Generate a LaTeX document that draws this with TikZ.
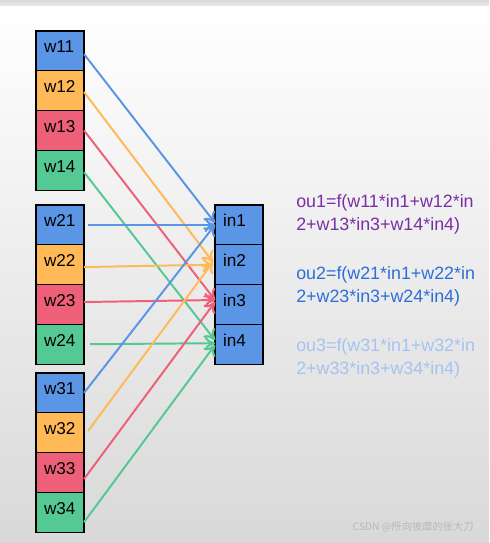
\documentclass[tikz,border=0pt]{standalone}
\usepackage{fontspec}
\setmainfont{Liberation Sans}
\newfontfamily\cjkfont{Noto Sans CJK SC}
\usetikzlibrary{arrows.meta,positioning}
\definecolor{wblue}{HTML}{5B95E6}
\definecolor{worange}{HTML}{FFB957}
\definecolor{wred}{HTML}{EE6077}
\definecolor{wgreen}{HTML}{55C993}
\definecolor{oupurple}{HTML}{7A2FA6}
\definecolor{oublue}{HTML}{2D6ED7}
\definecolor{oulight}{HTML}{A5C3F0}
\tikzset{%
	wbox/.style    = {draw, rectangle, line width=0.75pt, minimum width=12mm, minimum height=9.94mm, inner xsep=2mm, inner ysep=0pt, outer sep=0pt, text width=8mm, align=left, text height=8.5pt, text depth=5.5pt, font=\fontsize{12.2}{14}\selectfont}, % weight cell
	inbox/.style   = {wbox, fill=wblue}, % input cell
	wire/.style    = {-{To[length=2.6mm,width=3.6mm,line width=1.5pt]}, line width=1.4pt}, % connector
	formula/.style = {anchor=north west, inner sep=0pt, align=left, font=\fontsize{12.7}{16.3}\selectfont}, % output
}
\begin{document}
\begin{tikzpicture}[x=0.025cm, y=-0.025cm]
		\useasboundingbox (0,0) rectangle (489,543);
		\shade[top color=black!14, bottom color=black!8] (0,0) rectangle (489,7);
		\shade[top color=white, bottom color=black!15] (0,7) rectangle (489,543);
		% first group
		\node[wbox, fill=wblue, anchor=north west] (w11) at (36,31) {w11};
		\node[wbox, fill=worange, below=0pt of w11] (w12) {w12};
		\node[wbox, fill=wred, below=0pt of w12] (w13) {w13};
		\node[wbox, fill=wgreen, below=0pt of w13] (w14) {w14};
		% second group
		\node[wbox, fill=wblue, anchor=north west] (w21) at (36,205) {w21};
		\node[wbox, fill=worange, below=0pt of w21] (w22) {w22};
		\node[wbox, fill=wred, below=0pt of w22] (w23) {w23};
		\node[wbox, fill=wgreen, below=0pt of w23] (w24) {w24};
		% third group
		\node[wbox, fill=wblue, anchor=north west] (w31) at (36,373) {w31};
		\node[wbox, fill=worange, below=0pt of w31] (w32) {w32};
		\node[wbox, fill=wred, below=0pt of w32] (w33) {w33};
		\node[wbox, fill=wgreen, below=0pt of w33] (w34) {w34};
		% inputs
		\node[inbox, anchor=north west] (in1) at (215,205) {in1};
		\node[inbox, below=0pt of in1] (in2) {in2};
		\node[inbox, below=0pt of in2] (in3) {in3};
		\node[inbox, below=0pt of in3] (in4) {in4};
		% connectors
		\draw[wire, wblue] ([yshift=-0.8mm]w11.east) -- ([yshift=0.5mm]in1.west);
		\draw[wire, worange] ([yshift=-0.35mm]w12.east) -- ([xshift=-0.5mm,yshift=0.65mm]in2.west);
		\draw[wire, wred] (w13.east) -- ([yshift=1.1mm]in3.west);
		\draw[wire, wgreen] ([yshift=-0.5mm]w14.east) -- ([yshift=1mm]in4.west);
		\draw[wire, wblue] ([xshift=1mm]w21.east) -- (in1.west);
		\draw[wire, worange] ([yshift=-0.6mm]w22.east) -- ([xshift=-0.5mm]in2.west);
		\draw[wire, wred] ([yshift=0.6mm]w23.east) -- ([yshift=1.1mm]in3.west);
		\draw[wire, wgreen] ([xshift=1.5mm]w24.east) -- ([yshift=0.25mm]in4.west);
		\draw[wire, wblue] (w31.east) -- (in1.west);
		\draw[wire, worange] ([xshift=1mm,yshift=0.4mm]w32.east) -- ([xshift=-0.5mm,yshift=0.65mm]in2.west);
		\draw[wire, wred] ([yshift=-1.65mm]w33.east) -- ([yshift=0.6mm]in3.west);
		\draw[wire, wgreen] ([yshift=-2.5mm]w34.east) -- ([yshift=-0.2mm]in4.west);
		% outputs
		\node[formula, text=oupurple] (ou1) at (296,194) {ou1=f(w11*in1+w12*in\\2+w13*in3+w14*in4)};
		\node[formula, text=oublue] (ou2) at (296,266) {ou2=f(w21*in1+w22*in\\2+w23*in3+w24*in4)};
		\node[formula, text=oulight] (ou3) at (296,338) {ou3=f(w31*in1+w32*in\\2+w33*in3+w34*in4)};
		\node[anchor=east, inner sep=0pt, text=black!28, font=\cjkfont\fontsize{7.3}{9}\selectfont] (csdn) at (474,527) {CSDN @所向披靡的张大刀};
		\end{tikzpicture}
\end{document}
